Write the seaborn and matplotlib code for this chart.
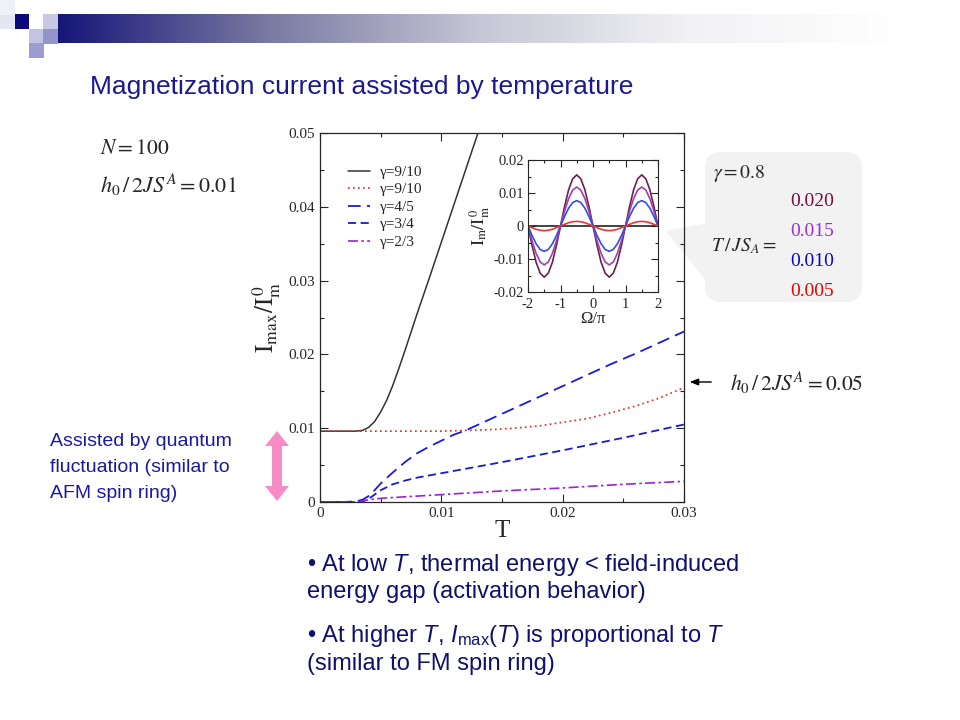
import matplotlib
matplotlib.use("Agg")
import matplotlib.pyplot as plt
import seaborn as sns
import pandas as pd
import numpy as np
from matplotlib.colors import LinearSegmentedColormap
from matplotlib.patches import Rectangle, Polygon, FancyBboxPatch
from matplotlib.ticker import MultipleLocator

# main panel: I_max / I_m^0 versus T
t_black = [0, 0.001, 0.002, 0.003, 0.0035, 0.004, 0.0045, 0.005, 0.0055, 0.006,
           0.0065, 0.007, 0.0075, 0.008, 0.009, 0.010, 0.011, 0.012, 0.013, 0.0135]
i_black = [0.0096, 0.0096, 0.0096, 0.0096, 0.0097, 0.0101, 0.0109, 0.0122, 0.0138,
           0.0158, 0.0181, 0.0205, 0.0230, 0.0255, 0.0303, 0.0352, 0.0401, 0.0450,
           0.0499, 0.0523]

t_red = [0, 0.005, 0.010, 0.012, 0.014, 0.016, 0.018, 0.020, 0.022, 0.024, 0.026, 0.028, 0.030]
i_red = [0.0096, 0.0096, 0.0096, 0.0097, 0.0098, 0.0100, 0.0103, 0.0108, 0.0113,
         0.0121, 0.0130, 0.0141, 0.0155]

t_45 = [0, 0.002, 0.003, 0.0035, 0.004, 0.0045, 0.005, 0.006, 0.007, 0.008, 0.009,
        0.010, 0.011, 0.012, 0.014, 0.016, 0.018, 0.020, 0.022, 0.024, 0.026, 0.028, 0.030]
i_45 = [0, 0, 0.0001, 0.0003, 0.0008, 0.0016, 0.0025, 0.0040, 0.0054, 0.0066, 0.0075,
        0.0083, 0.0091, 0.0097, 0.0112, 0.0127, 0.0142, 0.0157, 0.0172, 0.0187,
        0.0201, 0.0216, 0.0231]

t_34 = [0, 0.003, 0.0035, 0.004, 0.0045, 0.005, 0.006, 0.007, 0.008, 0.010, 0.012,
        0.015, 0.020, 0.025, 0.030]
i_34 = [0, 0, 0.0001, 0.0004, 0.0010, 0.0016, 0.0024, 0.0029, 0.0033, 0.0039, 0.0045,
        0.0054, 0.0070, 0.0087, 0.0105]

t_23 = [0, 0.003, 0.0035, 0.004, 0.005, 0.006, 0.008, 0.010, 0.015, 0.020, 0.025, 0.030]
i_23 = [0, 0, 0.0001, 0.0003, 0.0005, 0.0006, 0.0008, 0.0010, 0.0015, 0.0019, 0.0024, 0.0028]

legend_labels = ["γ=9/10", "γ=9/10", "γ=4/5", "γ=3/4", "γ=2/3"]

# inset: I_m / I_m^0 versus Omega/pi
omega = [-2, -1.875, -1.75, -1.625, -1.5, -1.375, -1.25, -1.125, -1, -0.875, -0.75,
         -0.625, -0.5, -0.375, -0.25, -0.125, 0, 0.125, 0.25, 0.375, 0.5, 0.625, 0.75,
         0.875, 1, 1.125, 1.25, 1.375, 1.5, 1.625, 1.75, 1.875, 2]
im_020 = [0, -0.0059, -0.0110, -0.0143, -0.0155, -0.0143, -0.0110, -0.0059, 0, 0.0059,
          0.0110, 0.0143, 0.0155, 0.0143, 0.0110, 0.0059, 0, -0.0059, -0.0110, -0.0143,
          -0.0155, -0.0143, -0.0110, -0.0059, 0, 0.0059, 0.0110, 0.0143, 0.0155, 0.0143,
          0.0110, 0.0059, 0]
im_015 = [0, -0.0045, -0.0083, -0.0109, -0.0118, -0.0109, -0.0083, -0.0045, 0, 0.0045,
          0.0083, 0.0109, 0.0118, 0.0109, 0.0083, 0.0045, 0, -0.0045, -0.0083, -0.0109,
          -0.0118, -0.0109, -0.0083, -0.0045, 0, 0.0045, 0.0083, 0.0109, 0.0118, 0.0109,
          0.0083, 0.0045, 0]
im_010 = [0, -0.0029, -0.0054, -0.0071, -0.0077, -0.0071, -0.0054, -0.0029, 0, 0.0029,
          0.0054, 0.0071, 0.0077, 0.0071, 0.0054, 0.0029, 0, -0.0029, -0.0054, -0.0071,
          -0.0077, -0.0071, -0.0054, -0.0029, 0, 0.0029, 0.0054, 0.0071, 0.0077, 0.0071,
          0.0054, 0.0029, 0]
im_005 = [0, -0.0005, -0.0010, -0.0013, -0.0014, -0.0013, -0.0010, -0.0005, 0, 0.0005,
          0.0010, 0.0013, 0.0014, 0.0013, 0.0010, 0.0005, 0, -0.0005, -0.0010, -0.0013,
          -0.0014, -0.0013, -0.0010, -0.0005, 0, 0.0005, 0.0010, 0.0013, 0.0014, 0.0013,
          0.0010, 0.0005, 0]
im_zero = [0] * len(omega)
temps = ["0.020", "0.015", "0.010", "0.005"]
temp_colors = ["#7a0a40", "#9b30d0", "#0a0ab8", "#ee0000"]

sns.set_style("ticks")
plt.rcParams['font.family'] = ['Liberation Serif', 'DejaVu Serif']
plt.rcParams['mathtext.fontset'] = 'custom'
plt.rcParams['mathtext.rm'] = 'Liberation Sans'
plt.rcParams['mathtext.it'] = 'Liberation Sans:italic'

fig = plt.figure(figsize=(9.6, 7.2), dpi=100)
fig.patch.set_facecolor('white')

# slide background in pixel coordinates
bg = fig.add_axes([0, 0, 1, 1])
cmap = LinearSegmentedColormap.from_list("bar", ["#16167a", "#7a7aa2", "#c6c6d6", "#f2f2f5", "#ffffff"])
bg.imshow(np.linspace(0, 1, 256).reshape(1, -1), cmap=cmap, aspect='auto',
          extent=(58, 900, 43, 14))
for (x0, y0, c) in [(14, 14, "#0a0a7a"), (43, 14, "#c8c8e6"), (29, 29, "#c4c4e2"),
                    (43, 29, "#9494cc"), (29, 43, "#9c9cd0"), (0, 14, "#e6e6f3"), (0, 0, "#f0f0f8")]:
    bg.add_patch(Rectangle((x0, y0), 14.5, 14.5, color=c, lw=0))
bg.set_xlim(0, 960)
bg.set_ylim(720, 0)
bg.axis('off')

sans = ['Liberation Sans', 'DejaVu Sans']
bg.text(90, 87, "Magnetization current assisted by temperature", family=sans,
        fontsize=19, color="#1a1a8c", va='center')
bg.text(100, 150, r'$N = 100$', math_fontfamily='stix', fontsize=15.5, va='center')
bg.text(100, 185, r'$h_0\,/\,2JS^{A} = 0.01$', math_fontfamily='stix', fontsize=16, va='center')
for k, line in enumerate(["Assisted by quantum", "fluctuation (similar to", "AFM spin ring)"]):
    bg.text(50, 442 + 26 * k, line, family=sans, fontsize=14, color="#1a1aa0", va='center')
bg.add_patch(Polygon([(277, 431), (289, 446), (282, 446), (282, 486), (289, 486), (277, 501),
                      (265, 486), (272, 486), (272, 446), (265, 446)], color="#f78bc6", lw=0))
bullets = [(565, r'• At low $\mathit{T}$, thermal energy < field-induced'),
           (592, 'energy gap (activation behavior)'),
           (636, r'• At higher $\mathit{T}$, $\mathit{I}_{\mathrm{max}}(\mathit{T})$ is proportional to $\mathit{T}$'),
           (664, '(similar to FM spin ring)')]
for y, s in bullets:
    bg.text(307, y, s, family=sans, fontsize=17, color="#10106e", va='center')

# callout box
bg.add_patch(Polygon([(666, 231), (712, 222), (712, 288)], color="#f2f2f2", lw=0))
bg.add_patch(FancyBboxPatch((712, 159), 143, 136, boxstyle="round,pad=7,rounding_size=16",
                            color="#f2f2f2", lw=0))
bg.text(713, 173, r'$\gamma = 0.8$', math_fontfamily='stix', fontsize=14, va='center')
bg.text(711, 246, r'$T\,/\,JS_A =$', math_fontfamily='stix', fontsize=14, va='center')
for k, (s, c) in enumerate(zip(temps, temp_colors)):
    bg.text(790, 201 + 30.3 * k, s, fontsize=14, color=c, va='center')

bg.annotate('', xy=(687, 382), xytext=(714, 382),
            arrowprops=dict(arrowstyle='-|>,head_length=0.5,head_width=0.2', color='black', lw=1))
bg.text(730, 383, r'$h_0\,/\,2JS^{A} = 0.05$', math_fontfamily='stix', fontsize=15.5, va='center')

# main axes
ax = fig.add_axes([320 / 960, 218 / 720, 364 / 960, 369 / 720])
ax.set_facecolor('none')
series = [(t_black, i_black, "#333333", '-', 1.1),
          (t_red, i_red, "#ee2222", (0, (1, 2)), 1.2),
          (t_45, i_45, "#1a1ae0", (0, (7, 3.5)), 1.3),
          (t_34, i_34, "#1a1ad0", (0, (4.5, 2.5)), 1.3),
          (t_23, i_23, "#9a22d8", (0, (6, 2, 1.5, 2)), 1.2)]
for (tx, iy, c, ls, lw), lab in zip(series, legend_labels):
    df = pd.DataFrame({'T': tx, 'I': iy})
    sns.lineplot(data=df, x='T', y='I', ax=ax, color=c, linestyle=ls, lw=lw, label=lab)
ax.set_xlim(0, 0.03)
ax.set_ylim(0, 0.05)
ax.set_xticks([0, 0.01, 0.02, 0.03], ['0', '0.01', '0.02', '0.03'])
ax.set_yticks([0, 0.01, 0.02, 0.03, 0.04, 0.05], ['0', '0.01', '0.02', '0.03', '0.04', '0.05'])
ax.xaxis.set_minor_locator(MultipleLocator(0.005))
ax.yaxis.set_minor_locator(MultipleLocator(0.005))
ax.tick_params(which='both', direction='in', top=True, right=True, labelsize=11, width=0.8)
ax.tick_params(which='major', length=6)
ax.tick_params(which='minor', length=3)
for sp in ax.spines.values():
    sp.set_linewidth(0.9)
ax.set_xlabel('T', fontsize=18, labelpad=0)
ax.set_ylabel(r'$\mathrm{I_{max}/I_m^{\,0}}$', math_fontfamily='stix', fontsize=18, labelpad=4)
ax.legend(loc='upper left', bbox_to_anchor=(0.04, 0.95), frameon=False, fontsize=11,
          handlelength=1.4, handletextpad=0.7, labelspacing=0.25)

# inset
ins = fig.add_axes([528 / 960, 428 / 720, 130 / 960, 132 / 720])
for iy, c in [(im_zero, "#222222"), (im_020, "#6a2050"), (im_015, "#a040a8"),
              (im_010, "#2e4ee8"), (im_005, "#ee3333")]:
    df = pd.DataFrame({'W': omega, 'I': iy})
    sns.lineplot(data=df, x='W', y='I', ax=ins, color=c, lw=1.2)
ins.set_xlim(-2, 2)
ins.set_ylim(-0.02, 0.02)
ins.set_xticks([-2, -1, 0, 1, 2], ['-2', '-1', '0', '1', '2'])
ins.set_yticks([-0.02, -0.01, 0, 0.01, 0.02], ['-0.02', '-0.01', '0', '0.01', '0.02'])
ins.xaxis.set_minor_locator(MultipleLocator(0.5))
ins.yaxis.set_minor_locator(MultipleLocator(0.005))
ins.tick_params(which='both', direction='in', top=True, right=True, labelsize=10.5, width=0.8)
ins.tick_params(axis='x', pad=4)
ins.tick_params(axis='y', pad=3)
ins.tick_params(which='major', length=5)
ins.tick_params(which='minor', length=2.5)
ins.set_xlabel('Ω/π', fontsize=12, labelpad=0)
ins.set_ylabel(r'$\mathrm{I_m/I_m^{\,0}}$', math_fontfamily='stix', fontsize=13, labelpad=1)

fig.savefig('out.png', dpi=100)
